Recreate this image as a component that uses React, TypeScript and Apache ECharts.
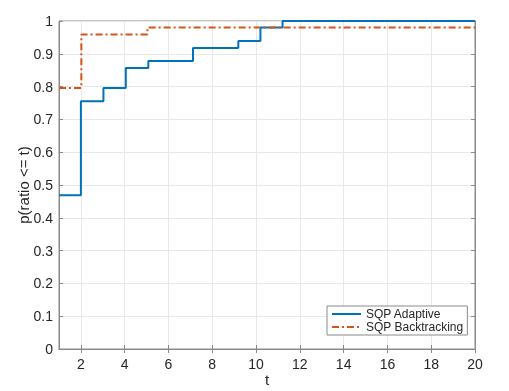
import React, { useEffect, useRef } from "react";
import * as echarts from "echarts";

const adaptiveT = [1, 2.0, 3.03, 4.05, 5.08, 7.12, 9.19, 10.2, 11.21, 20];
const adaptiveP = [0.469, 0.755, 0.796, 0.857, 0.878, 0.918, 0.939, 0.98, 1.0, 1.0];
const backtrackT = [1, 2.02, 5.04, 20];
const backtrackP = [0.796, 0.959, 0.98, 0.98];
const xTicks = [2, 4, 6, 8, 10, 12, 14, 16, 18, 20];
const seriesNames = ["SQP Adaptive", "SQP Backtracking"];

const FONT = "'Liberation Sans', Arial, Helvetica, sans-serif";

export default function App() {
  const ref = useRef<HTMLDivElement>(null);
  useEffect(() => {
    if (!ref.current) return;
    const chart = echarts.init(ref.current, undefined, { renderer: "svg" });
    const axisGray = "#8a8a8a";
    const labelColor = "#262626";
    chart.setOption({
      animation: false,
      textStyle: { fontFamily: FONT },
      grid: {
        left: 59,
        right: 34,
        top: 21,
        bottom: 42,
        outerBoundsMode: "none",
        containLabel: false,
        show: true,
        borderColor: axisGray,
        borderWidth: 1,
        backgroundColor: "#fff",
      },
      legend: {
        left: 327,
        top: 306,
        orient: "vertical",
        data: seriesNames,
        backgroundColor: "#fff",
        borderColor: axisGray,
        borderWidth: 1,
        padding: [2, 4, 2, 4],
        itemWidth: 29,
        itemHeight: 14,
        itemGap: 1,
        itemStyle: { opacity: 0, borderWidth: 0 },
        textStyle: { fontSize: 12, color: labelColor, fontFamily: FONT },
      },
      xAxis: [
        {
          type: "value",
          min: 1,
          max: 20,
          name: "t",
          nameLocation: "middle",
          nameGap: 23,
          nameMoveOverlap: false,
          nameTextStyle: { fontSize: 15, color: labelColor, fontFamily: FONT },
          axisLine: { show: true, lineStyle: { color: axisGray } },
          axisTick: { show: true, inside: true, length: 4, customValues: xTicks, lineStyle: { color: axisGray } },
          axisLabel: { customValues: xTicks, fontSize: 14, color: labelColor, margin: 8, fontFamily: FONT },
          splitLine: { show: true, lineStyle: { color: "#e8e8e8" } },
        },
        {
          type: "value",
          position: "top",
          min: 1,
          max: 20,
          axisLine: { show: true, lineStyle: { color: axisGray } },
          axisTick: { show: true, inside: true, length: 4, customValues: xTicks, lineStyle: { color: axisGray } },
          axisLabel: { show: false },
          splitLine: { show: false },
        },
      ],
      yAxis: [
        {
          type: "value",
          min: 0,
          max: 1,
          interval: 0.1,
          name: "p(ratio <= t)",
          nameLocation: "middle",
          nameGap: 28,
          nameMoveOverlap: false,
          nameRotate: 90,
          nameTextStyle: { fontSize: 15, color: labelColor, fontFamily: FONT },
          axisLine: { show: true, lineStyle: { color: axisGray } },
          axisTick: { show: true, inside: true, length: 4, lineStyle: { color: axisGray } },
          axisLabel: {
            fontSize: 14,
            color: labelColor,
            margin: 6,
            fontFamily: FONT,
            formatter: (v: number) => (Math.round(v * 10) / 10).toString(),
          },
          splitLine: { show: true, lineStyle: { color: "#e8e8e8" } },
        },
        {
          type: "value",
          position: "right",
          min: 0,
          max: 1,
          interval: 0.1,
          axisLine: { show: true, lineStyle: { color: axisGray } },
          axisTick: { show: true, inside: true, length: 4, lineStyle: { color: axisGray } },
          axisLabel: { show: false },
          splitLine: { show: false },
        },
      ],
      series: [
        {
          name: seriesNames[0],
          type: "line",
          step: "end",
          symbol: "none",
          xAxisIndex: 0,
          yAxisIndex: 0,
          data: adaptiveT.map((t, i) => [t, adaptiveP[i]]),
          lineStyle: { color: "#0072BD", width: 2 },
          itemStyle: { color: "#0072BD" },
          z: 3,
        },
        {
          name: seriesNames[1],
          type: "line",
          step: "end",
          symbol: "none",
          xAxisIndex: 0,
          yAxisIndex: 0,
          data: backtrackT.map((t, i) => [t, backtrackP[i]]),
          lineStyle: { color: "#D95319", width: 2, type: [7, 3, 2, 3] },
          itemStyle: { color: "#D95319" },
          z: 4,
        },
      ],
    });
    return () => chart.dispose();
  }, []);
  return <div ref={ref} style={{ width: 509, height: 391, position: "fixed", left: 0, top: 0 }} />;
}
